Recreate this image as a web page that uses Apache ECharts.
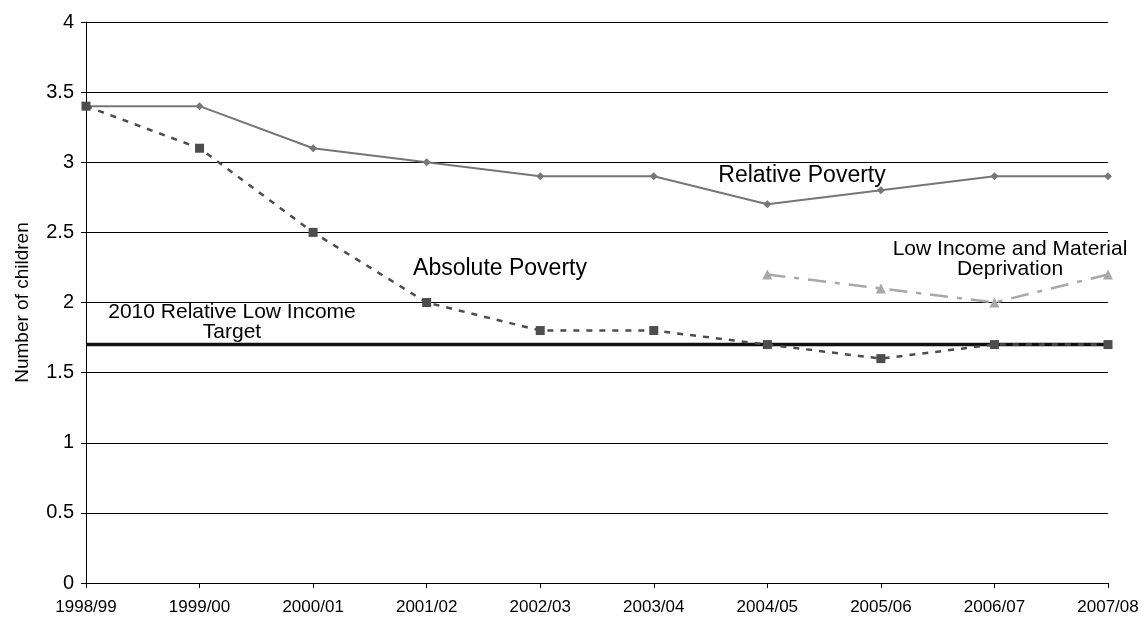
<!DOCTYPE html>
<html>
<head>
<meta charset="utf-8">
<script src="https://cdn.jsdelivr.net/npm/echarts@6/dist/echarts.min.js"></script>
<style>
  html, body { margin: 0; padding: 0; background: #fff; }
  #chart { width: 1144px; height: 618px; }
</style>
</head>
<body>
<div id="chart"></div>
<script>
const years = ['1998/99', '1999/00', '2000/01', '2001/02', '2002/03', '2003/04', '2004/05', '2005/06', '2006/07', '2007/08']
const relativePoverty = [3.4, 3.4, 3.1, 3.0, 2.9, 2.9, 2.7, 2.8, 2.9, 2.9]
const absolutePoverty = [3.4, 3.1, 2.5, 2.0, 1.8, 1.8, 1.7, 1.6, 1.7, 1.7]
const materialDeprivation = [null, null, null, null, null, null, 2.2, 2.1, 2.0, 2.2]
const target = [1.7, 1.7, 1.7, 1.7, 1.7, 1.7, 1.7, 1.7, 1.7, 1.7]

const font = 'Liberation Sans, Arial, sans-serif'
const chart = echarts.init(document.getElementById('chart'))

// series labels placed as free text, like the original chart
function note(text, x, y, size) {
  return {
    type: 'text', x, y,
    style: { text, font: size + 'px ' + font, fill: '#000', align: 'center', verticalAlign: 'middle', lineHeight: size - 1 }
  }
}

chart.setOption({
  animation: false,
  grid: { left: 86, right: 36, top: 22, bottom: 35, containLabel: false },
  xAxis: {
    type: 'category',
    data: years,
    boundaryGap: false,
    axisLine: { lineStyle: { color: '#000', width: 1 } },
    axisTick: { show: true, length: 5, lineStyle: { color: '#000' } },
    axisLabel: { color: '#000', fontSize: 17, fontFamily: font, margin: 16 },
    splitLine: { show: false }
  },
  yAxis: {
    type: 'value',
    min: 0,
    max: 4,
    interval: 0.5,
    name: 'Number of children',
    nameLocation: 'middle',
    nameGap: 54,
    nameTextStyle: { color: '#000', fontSize: 19, fontFamily: font },
    axisLine: { show: true, lineStyle: { color: '#000', width: 1 } },
    axisTick: { show: true, length: 5, lineStyle: { color: '#000' } },
    axisLabel: { color: '#000', fontSize: 20, fontFamily: font, margin: 12 },
    splitLine: { show: true, lineStyle: { color: '#000', width: 1 } }
  },
  series: [
    {
      name: '2010 Relative Low Income Target',
      type: 'line',
      data: target,
      symbol: 'none',
      lineStyle: { color: '#111', width: 3.5 },
      z: 1
    },
    {
      name: 'Relative Poverty',
      type: 'line',
      data: relativePoverty,
      symbol: 'diamond',
      symbolSize: 8,
      itemStyle: { color: '#767676' },
      lineStyle: { color: '#767676', width: 2 },
      z: 3
    },
    {
      name: 'Absolute Poverty',
      type: 'line',
      data: absolutePoverty,
      symbol: 'rect',
      symbolSize: 9,
      itemStyle: { color: '#4d4d4d' },
      lineStyle: { color: '#4d4d4d', width: 2.5, type: [6, 7] },
      z: 4
    },
    {
      name: 'Low Income and Material Deprivation',
      type: 'line',
      data: materialDeprivation,
      symbol: 'triangle',
      symbolSize: 10,
      itemStyle: { color: '#a8a8a8' },
      lineStyle: { color: '#a8a8a8', width: 2.5, type: [18, 9, 5, 9] },
      z: 2
    }
  ],
  graphic: [
    note('Relative Poverty', 802, 176, 23),
    note('Absolute Poverty', 500, 269, 23),
    note('Low Income and Material\nDeprivation', 1010, 259, 21),
    note('2010 Relative Low Income\nTarget', 232, 322, 21)
  ]
})
</script>
</body>
</html>
